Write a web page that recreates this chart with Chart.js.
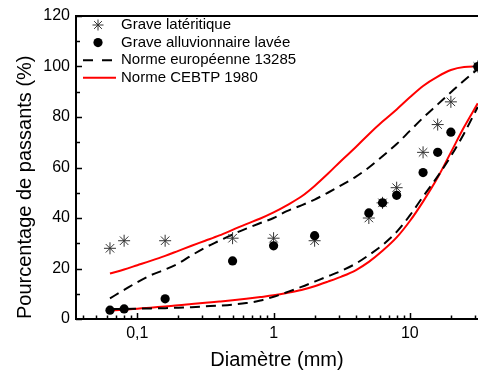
<!DOCTYPE html>
<html><head><meta charset="utf-8">
<script src="https://cdn.jsdelivr.net/npm/chart.js@4/dist/chart.umd.min.js"></script>
<style>html,body{margin:0;padding:0;background:#fff;overflow:hidden}</style>
</head><body>
<canvas id="c" width="478" height="374"></canvas>
<script>
// ---- data ----
const sieves = [0.063, 0.08, 0.16, 0.5, 1, 2, 5, 6.3, 8, 12.5, 16, 20, 31.5];
const graveLateritique = [28, 31, 31, 32, 32, 31, 40, 46, 52, 66, 77, 86, 100];
const graveAlluvionnaire = [3.5, 4, 8, 23, 29, 33, 42, 46, 49, 58, 66, 74, 100];

const curveX = [0.063, 0.08, 0.1, 0.125, 0.16, 0.2, 0.25, 0.315, 0.4, 0.5, 0.63, 0.8, 1, 1.25, 1.6, 2, 2.5, 3.15, 4, 5, 6.3, 8, 10, 12.5, 16, 20, 25, 31.5];
const en13285Upper = [8.2, 11.5, 14.6, 17.3, 19.6, 22, 25.2, 28.3, 31, 33.5, 35.8, 38, 40, 42.7, 45, 47.3, 50, 53, 56.3, 60, 64.5, 69.3, 74.5, 79.7, 85, 89.8, 94.5, 99];
const en13285Lower = [4, 4, 4.1, 4.2, 4.3, 4.5, 4.7, 5, 5.3, 5.7, 6.3, 7.3, 8.8, 10.6, 12.7, 14.8, 16.9, 19.1, 21.9, 25.3, 29.3, 34.5, 41, 48.5, 56.5, 64.5, 73.5, 84];
const cebtpUpper = [18, 19.6, 21.3, 23, 25, 27, 29, 31, 33.1, 35.3, 37.6, 39.8, 42.2, 45, 48.5, 52.7, 57.5, 62.8, 68, 73.2, 78.2, 83, 87.8, 92.3, 96, 98.6, 99.8, 100];
const cebtpLower = [3.3, 3.7, 4.1, 4.5, 5, 5.4, 5.9, 6.4, 6.9, 7.4, 8, 8.7, 9.4, 10.3, 11.5, 13, 14.8, 16.8, 19.3, 22.6, 27, 32.3, 38.8, 46.5, 56, 66, 76, 85.4];

const xTickValues = [0.1, 1, 10];
const xMinorTicks = [0.04,0.05,0.06,0.07,0.08,0.09,0.2,0.3,0.4,0.5,0.6,0.7,0.8,0.9,2,3,4,5,6,7,8,9,20,30];
const yMajorTicks = [0, 20, 40, 60, 80, 100, 120];
const yMinorTicks = [10, 30, 50, 70, 90, 110];

const FONT = "'Liberation Sans', Arial, Helvetica, sans-serif";
const pts = (xs, ys) => xs.map((x, i) => ({x: x, y: ys[i]}));

const framePlugin = {
  id: 'frame',
  afterDatasetsDraw(chart) {
    const ctx = chart.ctx, a = chart.chartArea;
    const xs = chart.scales.x, ys = chart.scales.y;
    ctx.save();
    ctx.strokeStyle = '#000';
    ctx.lineWidth = 1.5;
    ctx.setLineDash([]);
    ctx.beginPath();
    xTickValues.forEach(v => { const p = Math.round(xs.getPixelForValue(v)) + 0.5; ctx.moveTo(p, a.bottom); ctx.lineTo(p, a.bottom - 6); });
    xMinorTicks.forEach(v => { const p = Math.round(xs.getPixelForValue(v)) + 0.5; ctx.moveTo(p, a.bottom); ctx.lineTo(p, a.bottom - 3.5); });
    yMajorTicks.forEach(v => { const p = Math.round(ys.getPixelForValue(v)) + 0.5; ctx.moveTo(a.left, p); ctx.lineTo(a.left + 6, p); });
    yMinorTicks.forEach(v => { const p = Math.round(ys.getPixelForValue(v)) + 0.5; ctx.moveTo(a.left, p); ctx.lineTo(a.left + 4, p); });
    ctx.stroke();
    ctx.lineWidth = 2;
    ctx.beginPath();
    ctx.moveTo(a.right + 2, a.top); ctx.lineTo(a.left, a.top);
    ctx.lineTo(a.left, a.bottom); ctx.lineTo(a.right + 2, a.bottom);
    ctx.stroke();
    ctx.restore();
  },
  afterDraw(chart) {
    const ctx = chart.ctx;
    ctx.save();
    ctx.font = "15px " + FONT;
    ctx.textBaseline = 'middle';
    ctx.textAlign = 'left';
    ctx.fillStyle = '#000';
    chart.data.datasets.filter(d => d.legendKind).forEach((d, i) => {
      const y = 25 + i * 17.6;
      if (d.legendKind === 'star') {
        ctx.strokeStyle = '#333'; ctx.lineWidth = 1; ctx.beginPath();
        const r = 5.5;
        for (let k = 0; k < 4; k++) {
          const ang = k * Math.PI / 4;
          ctx.moveTo(98 - r * Math.cos(ang), y - r * Math.sin(ang));
          ctx.lineTo(98 + r * Math.cos(ang), y + r * Math.sin(ang));
        }
        ctx.stroke();
      } else if (d.legendKind === 'dot') {
        ctx.fillStyle = '#000'; ctx.beginPath(); ctx.arc(98, y, 4.6, 0, Math.PI * 2); ctx.fill();
      } else {
        ctx.strokeStyle = d.borderColor; ctx.lineWidth = 2;
        ctx.setLineDash(d.legendKind === 'dash' ? [10, 9] : []);
        ctx.beginPath(); ctx.moveTo(83, y); ctx.lineTo(116, y); ctx.stroke();
        ctx.setLineDash([]);
      }
      ctx.fillStyle = '#000';
      ctx.fillText(d.label, 121, y);
    });
    ctx.restore();
  }
};

const lineDs = (label, xs, ys, color, dash, legendKind) => ({
  label: label, data: pts(xs, ys), showLine: true, borderColor: color, backgroundColor: color,
  borderWidth: 2, borderDash: dash, pointRadius: 0, pointHoverRadius: 0,
  cubicInterpolationMode: 'monotone', clip: false, order: 2, legendKind: legendKind
});

new Chart(document.getElementById('c'), {
  type: 'scatter',
  data: {
    datasets: [
      { label: 'Grave latéritique', data: pts(sieves, graveLateritique), pointStyle: 'star', pointRadius: 6,
        borderColor: '#333', backgroundColor: '#333', pointBorderWidth: 1, borderWidth: 1, clip: false, order: 1, legendKind: 'star' },
      { label: 'Grave alluvionnaire lavée', data: pts(sieves, graveAlluvionnaire), pointStyle: 'circle', pointRadius: 4.6,
        borderColor: '#000', backgroundColor: '#000', borderWidth: 0, clip: false, order: 0, legendKind: 'dot' },
      lineDs('Norme européenne 13285', curveX, en13285Upper, '#000', [10, 6], 'dash'),
      lineDs('Norme européenne 13285 (inf.)', curveX, en13285Lower, '#000', [10, 6], null),
      lineDs('Norme CEBTP 1980', curveX, cebtpUpper, '#ff0000', [], 'solid'),
      lineDs('Norme CEBTP 1980 (inf.)', curveX, cebtpLower, '#ff0000', [], null)
    ]
  },
  options: {
    responsive: false,
    animation: false,
    devicePixelRatio: 1,
    layout: { autoPadding: false, padding: { top: 16, right: 0, bottom: 0, left: 0 } },
    plugins: { legend: { display: false }, tooltip: { enabled: false } },
    scales: {
      x: {
        type: 'logarithmic',
        min: Math.pow(10, -1.45), max: Math.pow(10, 1.5),
        grid: { display: false, drawTicks: false },
        border: { display: false },
        afterBuildTicks: s => { s.ticks = xTickValues.map(v => ({value: v})); },
        afterFit: s => { s.height = 55; s.paddingLeft = 0; s.paddingRight = 0; },
        ticks: { autoSkip: false, maxRotation: 0, padding: 5, color: '#000', font: { family: FONT, size: 16 },
          callback: v => String(v).replace('.', ',') },
        title: { display: true, text: 'Diamètre (mm)', color: '#000', font: { family: FONT, size: 20 }, padding: { top: 0, bottom: 2 } }
      },
      y: {
        min: 0, max: 120,
        grid: { display: false, drawTicks: false },
        border: { display: false },
        afterFit: s => { s.width = 76; s.paddingTop = 0; s.paddingBottom = 0; },
        ticks: { stepSize: 20, padding: 6, color: '#000', font: { family: FONT, size: 16 } },
        title: { display: true, text: 'Pourcentage de passants (%)', align: 'start', color: '#000', font: { family: FONT, size: 20 }, padding: { top: 13, bottom: 0 } }
      }
    }
  },
  plugins: [framePlugin]
});
</script>
</body></html>
